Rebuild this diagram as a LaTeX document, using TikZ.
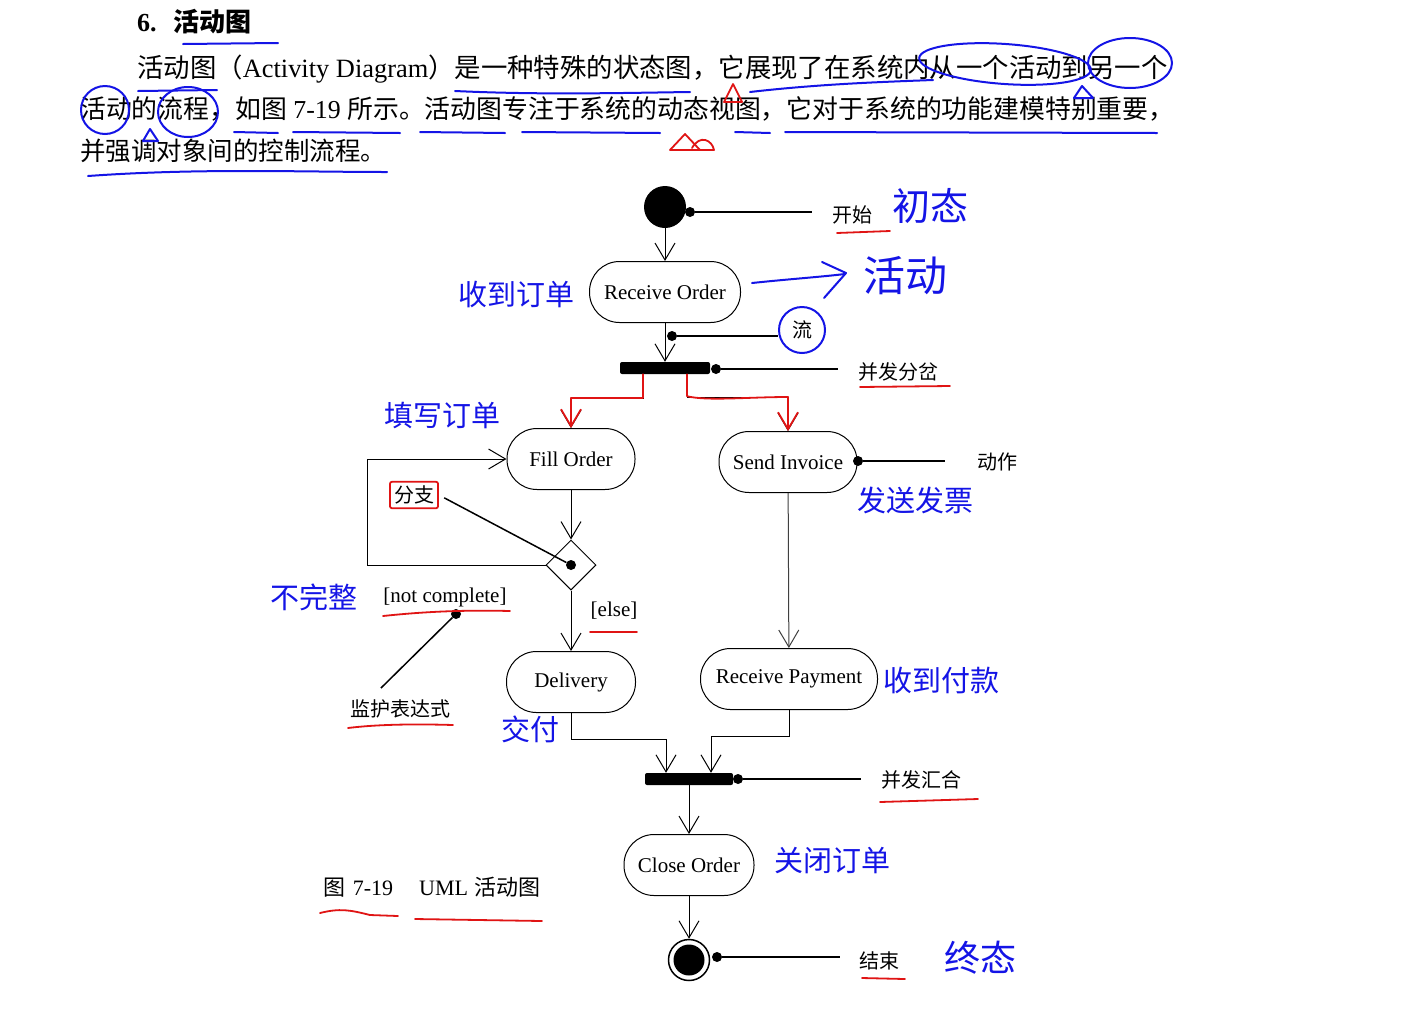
\documentclass[tikz,border=0pt]{standalone}
\usepackage{fontspec}
\setmainfont{Liberation Serif}
\newfontfamily\cjk{Noto Sans CJK SC}
\usetikzlibrary{arrows.meta,shapes.geometric,calc}
\definecolor{penblue}{HTML}{1414E6}
\definecolor{penred}{HTML}{E01414}
\newcommand\paraf{\fontsize{25.5}{30}\selectfont}
\newcommand\zhs{\cjk\fontsize{20}{24}\selectfont}
\newcommand\zhb{\cjk\fontsize{29}{34}\selectfont}
\newcommand\actfont{\rmfamily\fontsize{21}{25}\selectfont}

\begin{document}
\begin{tikzpicture}[x=1pt,y=-1pt,>={Straight Barb[length=17pt,width=20pt]},
  act/.style={draw,line width=1pt,rounded corners=30pt,minimum height=61pt,inner xsep=8pt,font=\actfont},
  bar/.style={fill,rounded corners=2pt,inner sep=0pt,minimum height=12pt},
  dot/.style={circle,fill,inner sep=0pt,minimum size=10pt},
  flow/.style={->,line width=1pt},
  tag/.style={line width=2.2pt},
  lbl/.style={font=\zhs},
  blu/.style={text=penblue,font=\zhb},
  hand/.style={penblue,line width=2pt,line cap=round,line join=round},
  redhand/.style={penred,line width=1.8pt,line cap=round,line join=round}]
 \useasboundingbox[fill=white] (0,0) rectangle (1412,1018);

 % heading and text
 \node[anchor=west,inner sep=0pt,font=\bfseries\fontsize{26}{30}\selectfont] (title) at (137,22) {6.\hspace{17pt}{\cjk 活动图}};
 \node[anchor=west,inner sep=0pt,font=\fontsize{26.4}{30}\selectfont] (line1) at (137,69)
  {{\cjk 活动图（}Activity\hspace{0.25em}Diagram{\cjk ）是一种特殊的状态图，它展现了在系统内从一个活动到另一个}};
 \node[anchor=west,inner sep=0pt,font=\fontsize{25.85}{30}\selectfont] (line2) at (80,109)
  {{\cjk 活动的流程，如图}\hspace{0.25em}7-19\hspace{0.25em}{\cjk 所示。活动图专注于系统的动态视图，它对于系统的功能建模特别重要，}};
 \node[anchor=west,inner sep=0pt,font=\paraf] (line3) at (80,151) {\cjk 并强调对象间的控制流程。};

 % pen marks on the text
 \draw[hand] (183,44) -- (278,43);
 \draw[hand] (138,91) -- (217,90);
 \draw[hand] (455,91) .. controls (540,95) and (620,93) .. (690,92);
 \draw[hand] (750,92) .. controls (820,84) and (880,82) .. (933,80);
 \draw[hand,rotate around={-4:(1005,64)}] (1005,64) ellipse (86 and 20);
 \draw[hand] (1130,63) ellipse (42 and 25);
 \draw[hand] (1074,98) -- (1082,86) -- (1093,98) -- cycle;
 \draw[hand] (105,110) circle (24);
 \draw[hand] (188,112) ellipse (30 and 25);
 \draw[hand] (143,141) -- (150,129) -- (158,141) -- cycle;
 \foreach \a/\b in {234/278,293/400,420/505,522/660,735/770,785/1157}
  \draw[hand] (\a,132) -- (\b,133);
 \draw[hand] (88,176) .. controls (200,168) and (300,172) .. (387,172);
 \draw[redhand] (724,102) -- (733,84) -- (742,102) -- cycle;
 \draw[redhand] (670,150) -- (685,134) -- (700,150) -- cycle;
 \draw[redhand] (692,148) .. controls (700,134) and (712,140) .. (714,150) -- (692,150);

 % activity nodes
 \node[circle,fill,inner sep=0pt,minimum size=42pt] (start) at (665,207) {};
 \node[act,minimum width=151pt] (recv) at (665,292) {Receive Order};
 \node[bar,minimum width=90pt] (fork) at (665,368) {};
 \node[act,minimum width=128pt] (fill) at (571,459) {Fill Order};
 \node[act,minimum width=138pt] (send) at (788,462) {Send Invoice};
 \node[draw,diamond,line width=1pt,inner sep=0pt,minimum width=50pt,minimum height=50pt] (dec) at (571,565) {};
 \node[act,minimum width=129pt] (deliv) at (571,682) {Delivery};
 \node[act,minimum width=177pt] (pay) at (789,679) {Receive Payment};
 \node[bar,minimum width=88pt] (join) at (689,779) {};
 \node[act,minimum width=130pt] (close) at (689,865) {Close Order};
 \node[circle,draw,line width=1.5pt,inner sep=0pt,minimum size=41pt] (stop) at (689,960) {};
 \node[circle,fill,inner sep=0pt,minimum size=31pt] (stopin) at (stop) {};

 % flows
 \coordinate (k1) at (571,398);
 \coordinate (k2) at (788,397);
 \coordinate (lp1) at (367,565);
 \coordinate (lp2) at (367,459);
 \coordinate (j1) at (666,739);
 \coordinate (j2) at (711,736);
 \draw[flow] (start) -- (recv);
 \draw[flow] (recv) -- (fork);
 \draw[flow] ([xshift=-22pt]fork.south) |- (k1) -- (fill);
 \draw[flow] ([xshift=22pt]fork.south) |- (k2) -- (send);
 \draw[flow] (fill) -- (dec);
 \draw[flow] (dec.west) -- (lp1) -- (lp2) -- (fill.west);
 \draw[flow] (dec) -- (deliv);
 \draw[flow,black!75] (send) -- (pay);
 \draw[flow] (deliv.south) |- (j1) -- ([xshift=-23pt]join.north);
 \draw[flow] (pay.south) |- (j2) -- ([xshift=22pt]join.north);
 \draw[flow] (join) -- (close);
 \draw[flow] (close) -- (stop);
 % red pen over the fork branches
 \begin{scope}[shift={(1,1)}]
  \draw[redhand,->] ([xshift=-22pt]fork.south) |- (k1) -- (fill);
  \draw[redhand,->] ([xshift=22pt]fork.south) -- ++(0,22) .. controls +(20,5) and +(-40,0) .. (k2) -- (send);
 \end{scope}

 % guards
 \node[font=\actfont] (els) at (614,611) {[else]};
 \node[font=\actfont] (notc) at (445,597) {[not complete]};

 % notes with pointer lines
 \node[dot] (d1) at (690,212) {};
 \coordinate (e1) at (812,212);
 \node[lbl] (l1) at (852,215) {开始};
 \node[dot] (d2) at (672,336) {};
 \node[circle,draw=penblue,line width=2pt,minimum size=46pt,inner sep=0pt,font=\zhs] (liu) at (802,330) {流};
 \node[dot] (d3) at (716,369) {};
 \coordinate (e3) at (838,369);
 \node[lbl] (l3) at (898,372) {并发分岔};
 \node[dot] (d4) at (858,461) {};
 \coordinate (e4) at (945,461);
 \node[lbl] (l4) at (997,462) {动作};
 \node[dot] (d5) at (571,565) {};
 \node[lbl,draw=penred,line width=1.8pt,rounded corners=2pt,inner sep=4pt] (l5) at (414,495) {分支};
 \node[dot] (d6) at (456,614) {};
 \coordinate (e6) at (381,688);
 \node[lbl] (l6) at (400,709) {监护表达式};
 \node[dot] (d7) at (738,779) {};
 \coordinate (e7) at (861,779);
 \node[lbl] (l7) at (921,780) {并发汇合};
 \node[dot] (d8) at (717,957) {};
 \coordinate (e8) at (840,957);
 \node[lbl] (l8) at (879,961) {结束};
 \draw[tag] (d1) -- (e1);
 \draw[tag] (d2) -- (d2 -| liu.west);
 \draw[tag] (d3) -- (e3);
 \draw[tag] (d4) -- (e4);
 \draw[line width=1.5pt,shorten >=6pt] (d5) -- (l5.east);
 \draw[line width=1.5pt] (d6) -- (e6);
 \draw[tag] (d7) -- (e7);
 \draw[tag] (d8) -- (e8);

 % typed blue labels
 \node[blu] (b1) at (516,294) {收到订单};
 \node[blu] (b2) at (442,415) {填写订单};
 \node[blu] (b3) at (915,500) {发送发票};
 \node[blu] (b4) at (314,597) {不完整};
 \node[blu] (b5) at (941,680) {收到付款};
 \node[blu] (b6) at (530,729) {交付};
 \node[blu] (b7) at (832,861) {关闭订单};

 % handwriting
 \node[text=penblue,font=\cjk\fontsize{38}{40}\selectfont] (h1) at (930,206) {初态};
 \draw[hand] (752,283) .. controls (790,279) and (820,277) .. (845,274);
 \draw[hand] (822,262) -- (846,273) -- (824,298);
 \node[text=penblue,font=\cjk\fontsize{42}{44}\selectfont] (h2) at (905,276) {活动};
 \node[text=penblue,font=\cjk\fontsize{36}{40}\selectfont] (h3) at (980,958) {终态};

 % caption
 \node[font=\rmfamily\fontsize{22}{26}\selectfont] (cap) at (432,887) {{\cjk 图}\hspace{7pt}7-19\hspace{26pt}UML\hspace{6pt}{\cjk 活动图}};

 % red underlines
 \draw[redhand] (837,233) -- (890,231);
 \draw[redhand] (860,387) -- (950,386);
 \draw[redhand] (590,632) -- (637,632);
 \draw[redhand] (383,616) .. controls (430,611) and (470,610) .. (510,611);
 \draw[redhand] (348,728) .. controls (380,724) and (420,724) .. (453,725);
 \draw[redhand] (880,802) -- (978,799);
 \draw[redhand] (862,978) -- (905,979);
 \draw[redhand] (320,913) .. controls (340,908) and (350,910) .. (370,915) -- (398,916);
 \draw[redhand] (415,919) -- (542,921);
\end{tikzpicture}
\end{document}
